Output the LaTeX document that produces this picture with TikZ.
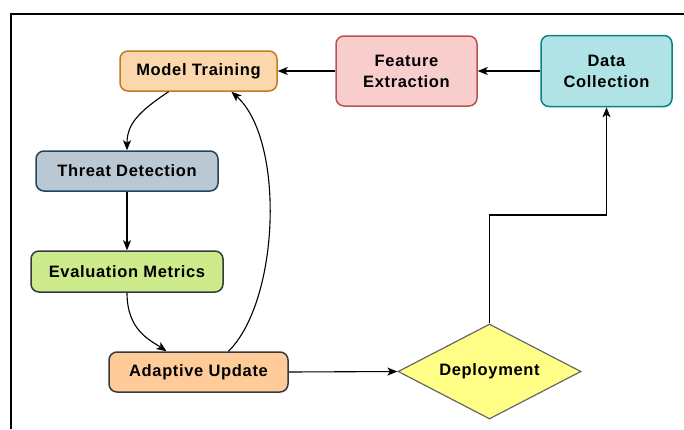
\documentclass[tikz,border=0pt]{standalone}
\usepackage{fontspec}
\setmainfont{Liberation Sans}[LetterSpace=4]
\usetikzlibrary{arrows.meta,shapes.geometric}
\definecolor{mtfill}{HTML}{FAD7AC}\definecolor{mtline}{HTML}{C27B1E}
\definecolor{fefill}{HTML}{F8CECC}\definecolor{feline}{HTML}{B85450}
\definecolor{dcfill}{HTML}{B0E3E6}\definecolor{dcline}{HTML}{0E8088}
\definecolor{tdfill}{HTML}{BAC8D3}\definecolor{tdline}{HTML}{23445D}
\definecolor{emfill}{HTML}{CDEB8B}\definecolor{emline}{HTML}{36393D}
\definecolor{aufill}{HTML}{FFCC99}\definecolor{auline}{HTML}{36393D}
\definecolor{defill}{HTML}{FFFF88}\definecolor{deline}{HTML}{666666}
\begin{document}
\begin{tikzpicture}[x=1pt,y=-1pt,
  lbl/.style={font=\fontsize{16.5}{21}\selectfont\bfseries},
  box/.style={lbl, draw, rounded corners=8pt, line width=1.5pt, inner sep=0pt, align=center},
  conn/.style={line width=1.1pt, -{Stealth[length=10pt,width=8pt,inset=2.5pt]}}]
\useasboundingbox (0,0) rectangle (684,429);
\draw[line width=2.5pt] (11,429) -- (11,14) -- (684,14);
\node[box, fill=mtfill, draw=mtline, minimum width=157pt, minimum height=40pt] (mt) at (198.5,71) {Model Training};
\node[box, fill=fefill, draw=feline, minimum width=141pt, minimum height=70pt] (fe) at (406.5,71) {Feature\\Extraction};
\node[box, fill=dcfill, draw=dcline, minimum width=131pt, minimum height=71pt] (dc) at (606.5,71) {Data\\Collection};
\node[box, fill=tdfill, draw=tdline, minimum width=182pt, minimum height=40pt] (td) at (127,171) {Threat Detection};
\node[box, fill=emfill, draw=emline, minimum width=192pt, minimum height=41pt] (em) at (127,271.5) {Evaluation Metrics};
\node[box, fill=aufill, draw=auline, minimum width=179pt, minimum height=40pt] (au) at (198.5,372) {Adaptive Update};
\node[lbl, diamond, draw=deline, fill=defill, line width=1.2pt, minimum width=183pt, minimum height=95pt, aspect=1.93, inner sep=0pt] (dep) at (489.5,371.5) {Deployment};
\coordinate (bend) at (489.5,215);
\draw[conn] (dc.west) -- (fe.east);
\draw[conn] (fe.west) -- (mt.east);
\draw[conn] ([xshift=-30pt]mt.south) .. controls +(-30,20) and +(0,-26) .. (td.north);
\draw[conn] (td.south) -- (em.north);
\draw[conn] (em.south) .. controls +(0,38) and +(-16,-11) .. ([xshift=-32pt]au.north);
\draw[conn] ([xshift=30pt]au.north) .. controls (280,300) and (285,140) .. ([xshift=33pt]mt.south);
\draw[conn] (au.east) -- (dep.west);
\draw[conn] (dep.north) -- (bend) -| (dc.south);
\end{tikzpicture}
\end{document}
